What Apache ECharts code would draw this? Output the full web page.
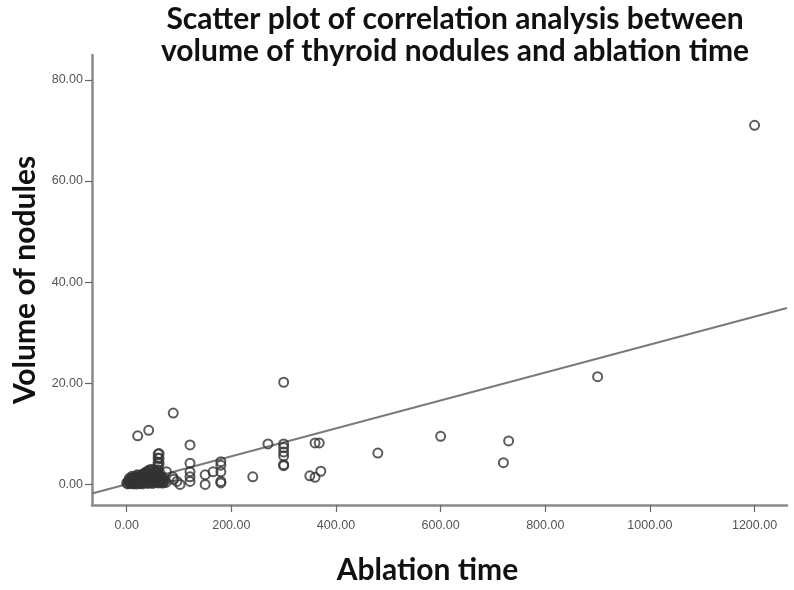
<!DOCTYPE html>
<html>
<head>
<meta charset="utf-8">
<script src="https://cdn.jsdelivr.net/npm/echarts@6/dist/echarts.min.js"></script>
<style>html,body{margin:0;padding:0;background:#fff}#c{width:794px;height:590px}</style>
</head>
<body>
<div id="c"></div>
<script>
// Ablation time (x) and volume of nodules (y)
const ablationTime = [
  1200, 900, 600, 730, 720, 480, 360, 368, 371, 350, 360,
  300, 300, 300, 300, 300, 300, 300, 270, 241,
  180, 180, 180, 180, 180, 165, 150, 150,
  121, 121, 121, 121, 121, 89, 21, 42, 62, 62, 62, 102, 76, 90, 96, 88,
  60, 60, 60, 60,
  0, 2, 5, 5, 8, 10, 10, 10, 12, 15, 15, 15, 18, 20, 20, 20, 20, 22, 25, 25, 25, 28,
  30, 30, 30, 30, 32, 35, 35, 35, 38, 40, 40, 40, 40, 42, 45, 45, 45, 45, 48,
  50, 50, 50, 50, 52, 55, 55, 55, 58, 60, 60, 60, 60, 62, 65, 65, 68, 70, 70, 72, 75,
  3, 6, 7, 9, 11, 13, 14, 16, 17, 19, 21, 23, 24, 26, 27, 29, 31, 33, 34, 36,
  37, 39, 41, 43, 44, 46, 47, 49, 51, 53, 54, 56, 57, 59, 61, 63, 64, 66, 67, 69
];
const noduleVolume = [
  71.0, 21.3, 9.5, 8.6, 4.3, 6.2, 8.2, 8.2, 2.6, 1.7, 1.4,
  20.2, 8.0, 7.3, 6.4, 5.6, 3.9, 3.7, 8.0, 1.5,
  4.5, 3.8, 2.5, 0.6, 0.3, 2.5, 1.9, 0.0,
  7.8, 4.2, 2.5, 1.5, 0.6, 14.1, 9.6, 10.7, 6.1, 5.1, 4.1, 0.0, 2.5, 1.0, 0.6, 1.5,
  6.0, 5.2, 4.4, 3.6,
  0.3, 0.1, 0.5, 1.2, 0.2, 0.4, 1.0, 1.6, 0.3, 0.2, 0.8, 1.5, 0.6, 0.1, 0.7, 1.3, 1.9, 0.4, 0.2, 0.9, 1.6, 0.5,
  0.1, 0.8, 1.4, 2.0, 0.3, 0.6, 1.2, 2.2, 0.4, 0.2, 0.9, 1.7, 2.6, 0.5, 0.3, 1.1, 1.9, 2.8, 0.7,
  0.2, 1.0, 1.8, 3.0, 0.5, 0.4, 1.3, 2.4, 0.8, 0.3, 1.2, 2.0, 2.9, 0.6, 0.5, 1.5, 0.9, 0.3, 1.4, 0.7, 0.4,
  0.6, 0.9, 0.2, 1.1, 0.5, 1.3, 0.1, 1.0, 0.4, 1.2, 1.7, 0.9, 0.3, 1.4, 0.7, 1.9, 1.1, 1.6, 0.5, 2.4,
  0.9, 1.5, 2.1, 1.3, 2.9, 0.6, 2.2, 1.5, 2.5, 1.6, 0.8, 2.7, 1.0, 1.9, 1.6, 0.9, 2.2, 0.3, 1.1, 0.6
];
// Fit line end points
const fitX = [-66.3, 1262];
const fitY = [-1.78, 34.88];
// Tick labels
const xTicks = [0, 200, 400, 600, 800, 1000, 1200];
const yTicks = [0, 20, 40, 60, 80];

const titleLines = ['Scatter plot of correlation analysis between', 'volume of thyroid nodules and ablation time'];

const chart = echarts.init(document.getElementById('c'), null, {renderer: 'canvas'});
const axisColor = '#8a8a8a';
const labelColor = '#555';
const nameFont = 'Lato';

chart.setOption({
  backgroundColor: '#fff',
  animation: false,
  graphic: [{
    type: 'text',
    x: 455, y: 3,
    style: {
      text: titleLines.join('\n'),
      fontFamily: nameFont, fontWeight: 'bold', fontSize: 30,
      lineHeight: 32,
      fill: '#111', textAlign: 'center', textVerticalAlign: 'top'
    }
  }],
  grid: {left: 92, right: 7, top: 55, bottom: 76, containLabel: false},
  xAxis: {
    type: 'value', min: -66.3, max: 1262,
    name: 'Ablation time', nameLocation: 'middle', nameGap: 50,
    nameTextStyle: {fontFamily: nameFont, fontWeight: 'bold', fontSize: 30, color: '#111', padding: [0, 24, 0, 0]},
    axisLine: {show: true, onZero: false, lineStyle: {color: axisColor, width: 2.5}},
    axisTick: {show: true, length: 7, lineStyle: {color: '#666', width: 1.2}, customValues: xTicks},
    axisLabel: {customValues: xTicks, formatter: v => v.toFixed(2), color: labelColor,
      fontFamily: 'Liberation Sans', fontSize: 12.5, margin: 14},
    splitLine: {show: false}
  },
  yAxis: {
    type: 'value', min: -4.07, max: 84.9,
    name: 'Volume of nodules', nameLocation: 'middle', nameGap: 50, nameRotate: 90,
    nameTextStyle: {fontFamily: nameFont, fontWeight: 'bold', fontSize: 30, color: '#111'},
    axisLine: {show: true, onZero: false, lineStyle: {color: axisColor, width: 2.5}},
    axisTick: {show: true, length: 7, lineStyle: {color: '#666', width: 1.2}, customValues: yTicks},
    axisLabel: {customValues: yTicks, formatter: v => v.toFixed(2), color: labelColor,
      fontFamily: 'Liberation Sans', fontSize: 12.5, margin: 9},
    splitLine: {show: false}
  },
  series: [{
    type: 'line',
    data: fitX.map((x, i) => [x, fitY[i]]),
    symbol: 'none',
    lineStyle: {color: '#7a7a7a', width: 2},
    silent: true, z: 1
  }, {
    type: 'scatter',
    data: ablationTime.map((x, i) => [x, noduleVolume[i]]),
    symbol: 'circle', symbolSize: 9,
    itemStyle: {color: 'rgba(0,0,0,0)', borderColor: '#333', borderWidth: 2},
    z: 2
  }]
});
</script>
</body>
</html>
